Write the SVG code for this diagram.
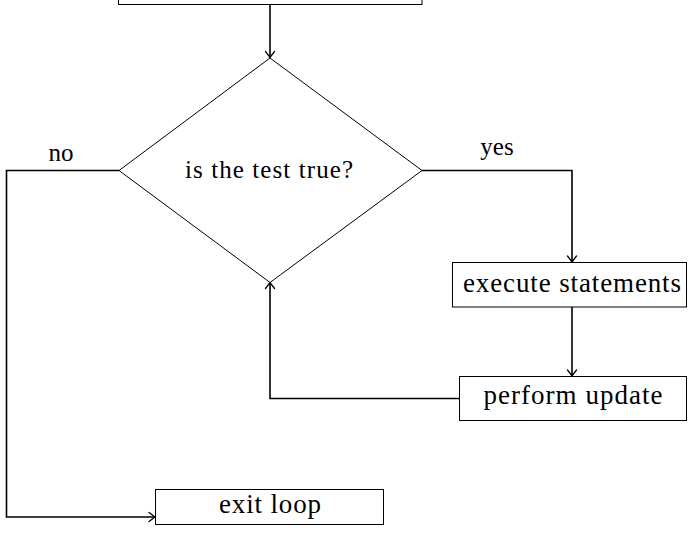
<svg xmlns="http://www.w3.org/2000/svg" width="690" height="535" viewBox="0 0 690 535">
<defs>
<style>
.box{fill:#fff;stroke:#000;stroke-width:1}
.edge{fill:none;stroke:#000;stroke-width:1.6}
text{font-family:"Liberation Serif","Times New Roman",serif;font-size:27px;fill:#000;text-anchor:middle}
.small{font-size:25px}
</style>
<marker id="arr" viewBox="-8 -6 10 12" markerWidth="10" markerHeight="12" refX="0" refY="0" orient="auto" markerUnits="userSpaceOnUse">
<path d="M-6,-4.5 Q-2,-1.5 0,0 Q-2,1.5 -6,4.5" fill="none" stroke="#000" stroke-width="1.3" stroke-linecap="round"/>
</marker>
</defs>
<g id="connectors">
<path class="edge" d="M270,5 V57.5" marker-end="url(#arr)"/>
<path class="edge" d="M422,170.5 H572 V262" marker-end="url(#arr)"/>
<path class="edge" d="M572,307 V376" marker-end="url(#arr)"/>
<path class="edge" d="M459,398.5 H270 V282.5" marker-end="url(#arr)"/>
<path class="edge" d="M119,170.5 H6.5 V517 H155" marker-end="url(#arr)"/>
<text class="small" x="61" y="161">no</text>
<text class="small" x="497" y="155">yes</text>
</g>
<g id="start">
<rect class="box" x="118.5" y="-20" width="303.5" height="24.5"/>
</g>
<g id="test">
<path class="box" d="M270,58 L422,170.5 L270,282.5 L119,170.5 Z"/>
<text class="small" x="269" y="178" textLength="168" lengthAdjust="spacing">is the test true?</text>
</g>
<g id="execute">
<rect class="box" x="452.5" y="262.5" width="234" height="44.5"/>
<text x="572" y="292" textLength="218" lengthAdjust="spacing">execute statements</text>
</g>
<g id="update">
<rect class="box" x="459.5" y="376.5" width="227" height="44"/>
<text x="573" y="404" textLength="179" lengthAdjust="spacing">perform update</text>
</g>
<g id="exit">
<rect class="box" x="155.5" y="489.5" width="228" height="35"/>
<text x="270" y="513" textLength="102" lengthAdjust="spacing">exit loop</text>
</g>
</svg>
